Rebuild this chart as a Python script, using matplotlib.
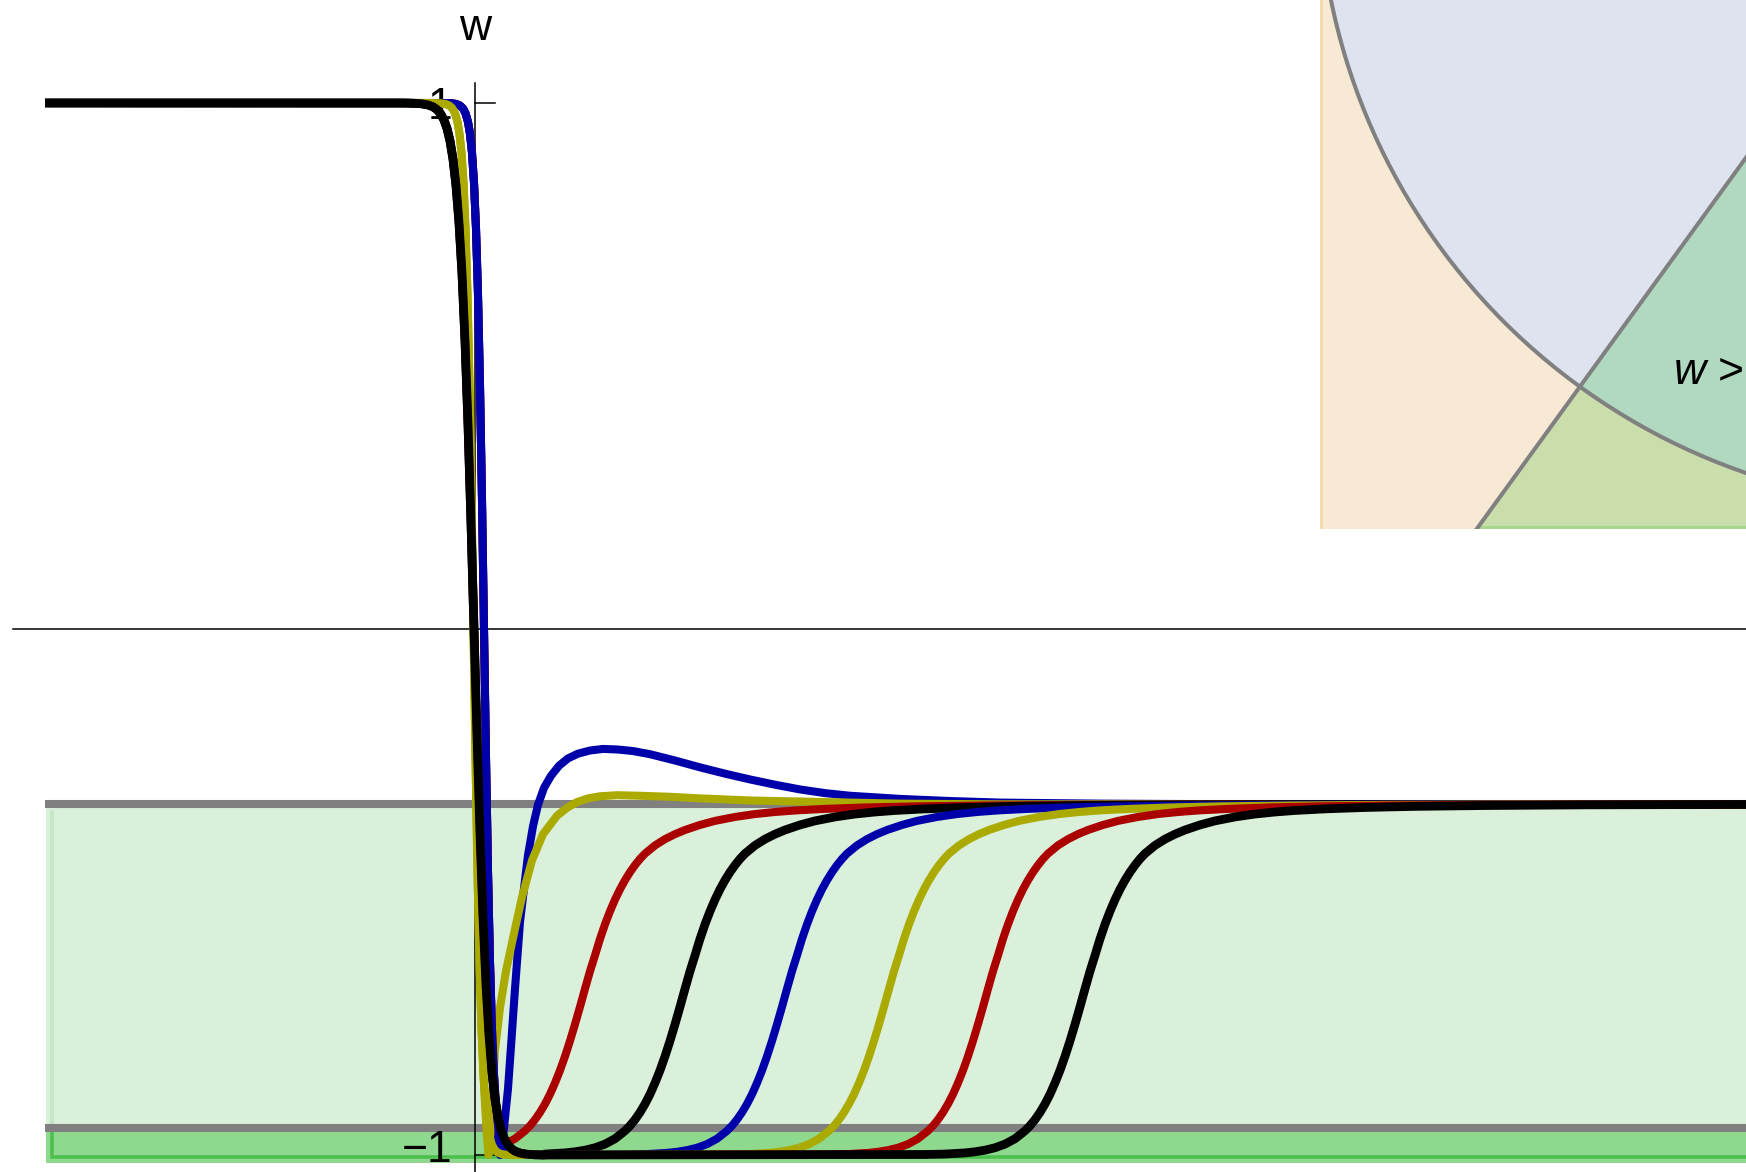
import numpy as np
import matplotlib
matplotlib.use("Agg")
import matplotlib.pyplot as plt
from matplotlib.patches import Rectangle, Polygon, Wedge, Circle

plt.rcParams['font.family'] = ['Liberation Sans', 'DejaVu Sans']
plt.rcParams['mathtext.fontset'] = 'custom'
plt.rcParams['mathtext.it'] = 'Liberation Sans:italic'
plt.rcParams['mathtext.rm'] = 'Liberation Sans'

# ---------------- data ----------------
X_START = -43.0          # left end of every solution
X_END = 140.0            # right end (beyond the visible range)
W_TOP = 1.0
W_BOTTOM = -1.0
W_MID = -1.0 / 3.0
W_BAND = -0.949

# kink 1 -> -1 : offset from kink centre and value (wide and narrow kinks)
WIDE_OFF = [-7.0, -6.0, -5.2, -4.6, -4.1, -3.7, -3.3, -3.0, -2.7, -2.4, -2.1, -1.8, -1.5,
            -1.2, -0.9, -0.6, -0.3, 0.0, 0.3, 0.6, 0.9, 1.2, 1.5, 1.8, 2.1, 2.4, 2.7, 3.0,
            3.3, 3.7, 4.1, 4.6, 5.2, 6.0, 7.0]
WIDE_W = [1.0, 0.9995, 0.9984, 0.9963, 0.9928, 0.9875, 0.9784, 0.9676, 0.9517, 0.928,
          0.8933, 0.8435, 0.7729, 0.6763, 0.5485, 0.3893, 0.2027, 0.0, -0.2027, -0.3893,
          -0.5485, -0.6763, -0.7729, -0.8435, -0.8933, -0.928, -0.9517, -0.9676, -0.9784,
          -0.9875, -0.9928, -0.9963, -0.9984, -0.9995, -1.0]
NARROW_OFF = [-4.0, -3.3, -2.8, -2.4, -2.1, -1.85, -1.6, -1.4, -1.2, -1.0, -0.8, -0.6,
              -0.4, -0.2, 0.0, 0.2, 0.4, 0.6, 0.8, 1.0, 1.2, 1.4, 1.6, 1.85, 2.1, 2.4,
              2.8, 3.3, 4.0]
NARROW_W = [1.0, 0.9995, 0.9982, 0.995, 0.9896, 0.9805, 0.964, 0.9414, 0.9052, 0.8483,
            0.7616, 0.6352, 0.4621, 0.2449, 0.0, -0.2449, -0.4621, -0.6352, -0.7616,
            -0.8483, -0.9052, -0.9414, -0.964, -0.9805, -0.9896, -0.995, -0.9982, -0.9995,
            -1.0]

# rise -1 -> -1/3 : offset from the w = -0.684 crossing and value
RISE_OFF = [-16, -14, -12, -11, -10, -9, -8, -7, -6, -5.5, -5, -4.5, -4, -3.5, -3, -2.5,
            -2, -1.5, -1, -0.5, 0, 0.5, 1, 1.5, 2, 2.5, 3, 3.5, 4, 4.5, 5, 5.5, 6, 7, 8,
            9, 10, 11.5, 13, 15, 17, 19, 21, 24, 28, 33, 40, 50, 65]
RISE_W = [-0.999, -0.9982, -0.996, -0.9939, -0.9908, -0.9862, -0.9793, -0.969, -0.954,
          -0.9444, -0.9327, -0.919, -0.903, -0.8845, -0.863, -0.8392, -0.8124, -0.783,
          -0.7515, -0.7183, -0.684, -0.6506, -0.6204, -0.5892, -0.5614, -0.5366, -0.5145,
          -0.4948, -0.4776, -0.4623, -0.4489, -0.4371, -0.427, -0.4114, -0.3995, -0.39,
          -0.3821, -0.3725, -0.3648, -0.3573, -0.3518, -0.3479, -0.345, -0.342, -0.3393,
          -0.3372, -0.3356, -0.3343, -0.3336]

# the two solutions that turn straight back up (with overshoot)
BLUE1_X = [-43, -2.4, -1.9, -1.5, -1.2, -0.95, -0.7, -0.5, -0.3, -0.1, 0.1, 0.3, 0.5, 0.7,
           0.9, 1.1, 1.3, 1.5, 1.7, 1.9, 2.1, 2.3, 2.5, 2.7, 3.0, 3.3, 3.65, 4.0, 4.5, 5.3,
           5.8, 6.3, 6.9, 7.6, 8.4, 9.3, 10.3, 11.5, 12.8, 14.2, 15.8, 17.5, 20, 22.5, 25,
           27.5, 30, 32.5, 35, 37.5, 42.5, 47.5, 52.5, 62.5, 77.5, 140]
BLUE1_W = [1.0, 0.9995, 0.9982, 0.995, 0.9896, 0.9805, 0.964, 0.9414, 0.9052, 0.8483,
           0.7616, 0.6352, 0.4621, 0.2449, 0.0, -0.2449, -0.4621, -0.6352, -0.7616,
           -0.8483, -0.92, -0.975, -1.0, -0.985, -0.93, -0.874, -0.78, -0.684, -0.557,
           -0.43, -0.375, -0.334, -0.302, -0.279, -0.26, -0.246, -0.237, -0.231, -0.228,
           -0.229, -0.232, -0.238, -0.25, -0.263, -0.275, -0.286, -0.296, -0.305, -0.312,
           -0.317, -0.323, -0.327, -0.33, -0.332, -0.3333, -0.3333]
YELLOW1_X = [-43, -3.45, -2.95, -2.55, -2.25, -2.0, -1.75, -1.55, -1.35, -1.15, -0.95,
             -0.75, -0.55, -0.35, -0.15, 0.05, 0.25, 0.45, 0.65, 0.85, 1.05, 1.2, 1.35,
             1.5, 1.75, 2.0, 2.5, 3.1, 4.0, 4.7, 5.7, 6.8, 8.2, 9.2, 10.2, 11.3, 12.5,
             14.2, 16.5, 19.5, 22.5, 27.5, 32.5, 42.5, 52.5, 140]
YELLOW1_W = [1.0, 0.9995, 0.9982, 0.995, 0.9896, 0.9805, 0.964, 0.9414, 0.9052, 0.8483,
             0.7616, 0.6352, 0.4621, 0.2449, 0.0, -0.2449, -0.4621, -0.6352, -0.7616,
             -0.8483, -0.92, -0.965, -1.0, -0.97, -0.88, -0.8, -0.72, -0.65, -0.57, -0.51,
             -0.44, -0.39, -0.355, -0.34, -0.329, -0.322, -0.318, -0.316, -0.317, -0.319,
             -0.322, -0.326, -0.328, -0.332, -0.3333, -0.3333]

# the solutions that linger at w = -1 before rising
KINK_KIND = ['narrow', 'wide', 'narrow', 'narrow', 'wide', 'wide']
KINK_CENTRE = [0.9, -0.1, 0.9, -0.15, -0.1, -0.1]
RISE_CENTRE = [11.0, 21.0, 31.2, 41.4, 51.3, 61.0]
LATE_COLORS = ['#aa0000', '#000000', '#0000aa', '#aaaa00', '#aa0000', '#000000']

BLUE = '#0000aa'
YELLOW = '#aaaa00'

# inset: circle of radius 1 and a ray from its centre
RAY_ANGLE = 234.05


def late_solution(kind, kc, rc):
    off, val = (WIDE_OFF, WIDE_W) if kind == 'wide' else (NARROW_OFF, NARROW_W)
    kx = kc + np.asarray(off, dtype=float)
    kw = np.asarray(val)
    keep = kx < rc - 8
    kx, kw = kx[keep], kw[keep]
    rx = rc + np.asarray(RISE_OFF, dtype=float)
    rw = np.asarray(RISE_W)
    keep = rx > kx[-1]
    rx, rw = rx[keep], rw[keep]
    x = np.concatenate([[X_START], kx, rx, [X_END]])
    w = np.concatenate([[W_TOP], kw, rw, [W_MID]])
    return x, w


fig = plt.figure(figsize=(17.46, 11.72), dpi=100)
ax = fig.add_axes([0, 0, 1, 1])
ax.set_xlim(-47.5, 127.1)
ax.set_ylim(-1.0323, 1.1958)
ax.axis('off')

# shaded bands
ax.add_patch(Rectangle((X_START + 0.07, W_BAND), X_END - X_START, W_MID - W_BAND,
                       fc='#daf0da', ec='none', zorder=1))
ax.plot([-42.3, -42.3], [W_MID - 0.01, W_BAND], color='#c3e8c3', lw=2.9,
        solid_capstyle='butt', zorder=1.1)
ax.add_patch(Rectangle((X_START + 0.07, -1.0152), X_END - X_START, W_BAND + 1.0152,
                       fc='#8fd98f', ec='none', zorder=1))
ax.plot([-42.3, -42.3, X_END], [W_BAND, -1.0038, -1.0038], color='#4cbf4c', lw=2.6,
        solid_joinstyle='miter', zorder=1.1)

# reference levels
for lvl in (W_MID, W_BAND):
    ax.plot([X_START, X_END], [lvl, lvl], color='#808080', lw=5.8,
            solid_capstyle='butt', zorder=2)

# axes
ax.plot([-46.2, X_END], [0, 0], color='black', lw=1.1, zorder=2)
ax.plot([0, 0], [1.038, -1.1], color='black', lw=1.1, zorder=2)
for t in (W_TOP, W_BOTTOM):
    ax.plot([0, 2.0], [t, t], color='black', lw=1.1, zorder=2)
ax.text(-2.3, 0.9696, '1', fontsize=32, ha='right', va='baseline', zorder=2.5)
ax.text(-2.3, -1.0133, '\u22121', fontsize=32, ha='right', va='baseline', zorder=2.5)
ax.text(0, 1.1198, 'w', fontsize=32, ha='center', va='baseline', zorder=2.5)

# solutions
LW_COLOR, LW_BLACK = 5.8, 6.3
ax.plot(BLUE1_X, BLUE1_W, color=BLUE, lw=LW_COLOR, solid_capstyle='butt', zorder=3)
ax.plot(YELLOW1_X, YELLOW1_W, color=YELLOW, lw=LW_COLOR, solid_capstyle='butt', zorder=3)
for kind, kc, rc, col in zip(KINK_KIND, KINK_CENTRE, RISE_CENTRE, LATE_COLORS):
    x, w = late_solution(kind, kc, rc)
    lw = LW_BLACK if col == '#000000' else LW_COLOR
    ax.plot(x, w, color=col, lw=lw, solid_capstyle='butt', zorder=3)

# ---------------- inset ----------------
ins = fig.add_axes([1320 / 1746, 1 - 529 / 1172, 1 - 1320 / 1746, 529 / 1172])
x0, x1, y0, y1 = -0.9972, -0.325, -1.0341, -0.1994
ins.set_xlim(x0, x1)
ins.set_ylim(y0, y1)
ins.axis('off')
ins.add_patch(Rectangle((x0, y0), x1 - x0, y1 - y0, fc='#f8e9d5', ec='none', zorder=0))

th = np.deg2rad(RAY_ANGLE)
d = np.array([np.cos(th), np.sin(th)])
n = np.array([-d[1], d[0]])          # normal pointing to the lower right
far = 4.0
ins.add_patch(Polygon([(0, 0), tuple(far * d), tuple(far * d + far * n), tuple(far * n)],
                      closed=True, fc='#c9deab', ec='none', zorder=1))
ins.add_patch(Wedge((0, 0), 1.0, RAY_ANGLE - 180, RAY_ANGLE, fc='#dee3ef', ec='none', zorder=2))
ins.add_patch(Wedge((0, 0), 1.0, RAY_ANGLE, RAY_ANGLE + 180, fc='#b1d9c0', ec='none', zorder=2))

# region edges at the frame
px = 1.0 / 633.8
ins.plot([x0 + 1.5 * px, x0 + 1.5 * px], [y0, y1], color='#f3d9b0', lw=2.2, zorder=3)
yb = y0 + 2.5 * px
ins.plot([yb * d[0] / d[1], x1], [yb, yb], color='#a8d88c', lw=2.2, zorder=3)

ins.add_patch(Circle((0, 0), 1.0, fc='none', ec='#808080', lw=2.9, zorder=4))
ins.plot([0, far * d[0]], [0, far * d[1]], color='#808080', lw=2.9, zorder=4)
ins.text(-0.440, -0.805, r'$w$ >', fontsize=32, ha='left', va='baseline', zorder=5)

fig.savefig('out.png', dpi=100)
